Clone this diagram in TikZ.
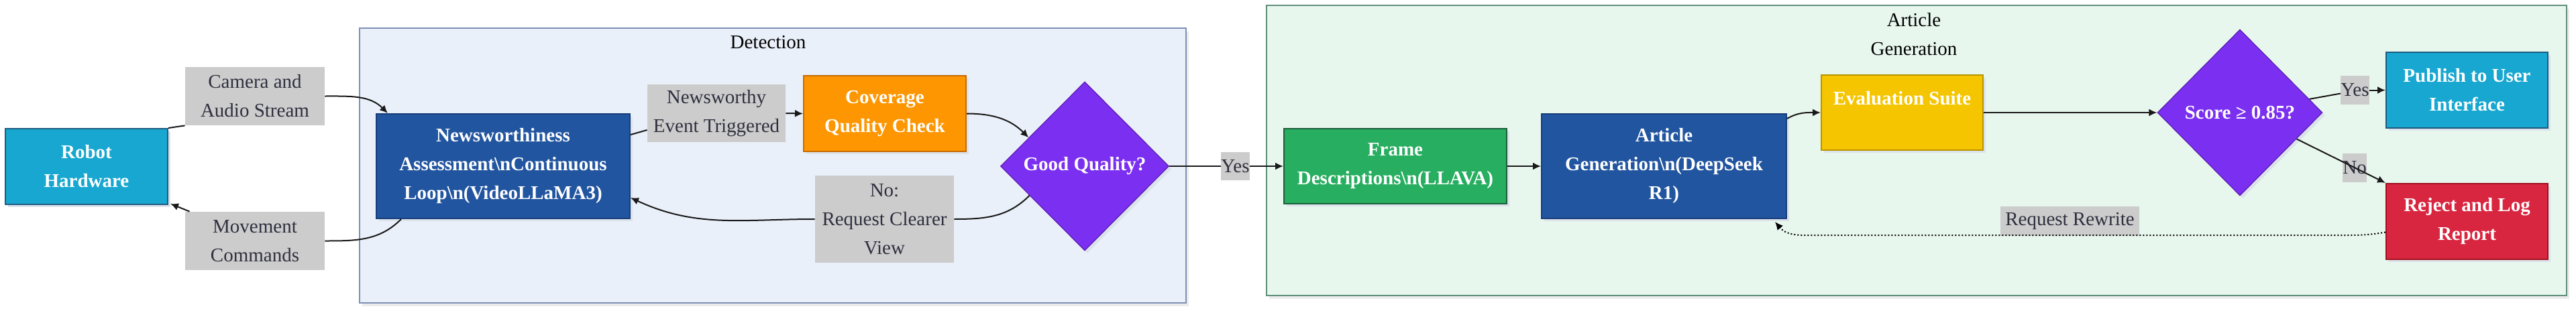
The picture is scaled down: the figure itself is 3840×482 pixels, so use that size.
\documentclass[tikz,border=0pt]{standalone}
\usepackage{fontspec}
\setmainfont{Liberation Serif}
\usetikzlibrary{shapes.geometric,shadows,calc,arrows.meta}
\definecolor{robotc}{HTML}{17A7D0}
\definecolor{robotb}{HTML}{1F5A80}
\definecolor{newsc}{HTML}{2255A0}
\definecolor{newsb}{HTML}{173E7A}
\definecolor{orangec}{HTML}{FD9600}
\definecolor{orangeb}{HTML}{C86A00}
\definecolor{purplec}{HTML}{7B2FF0}
\definecolor{purpleb}{HTML}{5A1FB0}
\definecolor{greenc}{HTML}{27AE60}
\definecolor{greenb}{HTML}{1B5E38}
\definecolor{yellowc}{HTML}{F5C500}
\definecolor{yellowb}{HTML}{B89400}
\definecolor{redc}{HTML}{D92640}
\definecolor{redb}{HTML}{A0101E}
\definecolor{lblc}{HTML}{CCCCCC}
\definecolor{lbltext}{HTML}{2F2F3F}
\definecolor{detfill}{HTML}{EAF0F9}
\definecolor{detdraw}{HTML}{7D8FB5}
\definecolor{artfill}{HTML}{E8F7EE}
\definecolor{artdraw}{HTML}{5E8F7A}
\definecolor{shadowc}{HTML}{DCE2EA}
\begin{document}
\begin{tikzpicture}[x=0.5pt,y=-0.5pt,
  txt/.style={font=\fontsize{14.5}{21.5}\selectfont, align=center},
  box/.style={rectangle, txt, line width=1pt, inner sep=0pt, text=white,
    font=\bfseries\fontsize{14.5}{21.5}\selectfont,
    drop shadow={fill=shadowc, opacity=1, shadow xshift=2pt, shadow yshift=-2pt}},
  dia/.style={diamond, txt, line width=0.6pt, inner sep=0pt, text=white,
    font=\bfseries\fontsize{14.5}{21.5}\selectfont,
    drop shadow={fill=shadowc, opacity=1, shadow xshift=2pt, shadow yshift=-2pt}},
  lbl/.style={rectangle, txt, fill=lblc, inner sep=0pt, text=lbltext},
  cluster/.style={rectangle, line width=0.8pt, inner sep=0pt,
    drop shadow={fill=black!8, opacity=1, shadow xshift=2pt, shadow yshift=-2.5pt}},
  edge/.style={line width=1pt, draw=black!90},
  arr/.style={edge, -{Latex[length=6pt,width=5.5pt]}}
]
\useasboundingbox (0,0) rectangle (3840,482);
% clusters
\node[cluster, fill=detfill, draw=detdraw, minimum width=616pt, minimum height=205pt] (detect) at (1152,247) {};
\node[txt, text=black] (detectlbl) at (1145,63) {Detection};
\node[cluster, fill=artfill, draw=artdraw, minimum width=969pt, minimum height=216.5pt] (artcl) at (2857,224.5) {};
\node[txt, text=black] (artcllbl) at (2853,51.5) {Article\\Generation};
% nodes
\node[box, fill=robotc, draw=robotb, minimum width=121pt, minimum height=56.5pt] (robot) at (129,248.5) {Robot\\Hardware};
\node[lbl, minimum width=104pt, minimum height=43.5pt] (camlbl) at (380,143.5) {Camera and\\Audio Stream};
\node[lbl, minimum width=104pt, minimum height=43.5pt] (movlbl) at (380,359.5) {Movement\\Commands};
\node[box, fill=newsc, draw=newsb, minimum width=189pt, minimum height=78pt] (news) at (750,248) {Newsworthiness\\Assessment\textbackslash nContinuous\\Loop\textbackslash n(VideoLLaMA3)};
\node[lbl, minimum width=103pt, minimum height=43pt] (evtlbl) at (1068,169) {Newsworthy\\Event Triggered};
\node[box, fill=orangec, draw=orangeb, minimum width=121pt, minimum height=56.5pt] (coverage) at (1319,169.5) {Coverage\\Quality Check};
\node[dia, fill=purplec, draw=purpleb, minimum width=125.5pt, minimum height=126pt] (goodq) at (1617,248) {Good Quality?};
\node[lbl, minimum width=103.5pt, minimum height=65pt] (nolbl) at (1318.5,327) {No:\\Request Clearer\\View};
\node[lbl, minimum width=20.5pt, minimum height=21pt] (yeslbl) at (1841.5,248) {Yes};
\node[box, fill=greenc, draw=greenb, minimum width=166pt, minimum height=56pt] (frame) at (2080,248) {Frame\\Descriptions\textbackslash n(LLAVA)};
\node[box, fill=newsc, draw=newsb, minimum width=182.5pt, minimum height=78pt] (artgen) at (2480.5,248) {Article\\Generation\textbackslash n(DeepSeek\\R1)};
\node[box, fill=yellowc, draw=yellowb, minimum width=120.5pt, minimum height=56pt] (eval) at (2835.5,168) {Evaluation Suite\\\mbox{}};
\node[dia, fill=purplec, draw=purpleb, minimum width=123pt, minimum height=124pt] (score) at (3339,168) {Score ≥ 0.85?};
\node[lbl, minimum width=20.5pt, minimum height=21.5pt] (yes2) at (3510.5,134.5) {Yes};
\node[box, fill=robotc, draw=robotb, minimum width=120.5pt, minimum height=56.5pt] (publish) at (3677.5,134.5) {Publish to User\\Interface};
\node[lbl, minimum width=17pt, minimum height=21.5pt] (no2) at (3510,250.5) {No};
\node[box, fill=redc, draw=redb, minimum width=120.5pt, minimum height=56.5pt] (reject) at (3677.5,330.5) {Reject and Log\\Report};
\node[lbl, minimum width=103.5pt, minimum height=22pt] (rewrite) at (3085.5,330) {Request Rewrite};
% edges
\draw[edge] (robot.north east) -- (camlbl.south west);
\draw[arr] (camlbl.east) to[out=0,in=135] ($(news.north west)+(18,0)$);
\draw[edge] ($(news.south west)+(38,0)$) to[out=225,in=0] (movlbl.east);
\draw[arr] ($(movlbl.north west)+(7,0)$) -- ($(robot.south east)+(3,-2)$);
\draw[edge] ($(news.north east)+(0,32)$) -- ($(evtlbl.west)+(0,25)$);
\draw[arr] (evtlbl.east) -- (coverage.west);
\draw[arr] (coverage.east) to[out=0,in=135] (goodq.153);
\draw[edge] (goodq.208) to[out=225,in=0] (nolbl.east);
\draw[arr] (nolbl.west) to[out=180,in=-25] ($(news.east)+(0,47)$);
\draw[edge] (goodq.east) -- (yeslbl.west);
\draw[arr] (yeslbl.east) -- (frame.west);
\draw[arr] (frame.east) -- (artgen.west);
\draw[arr] ($(artgen.north east)+(0,8)$) to[out=30,in=180] (eval.west);
\draw[arr] (eval.east) -- (score.west);
\draw[edge] (score.11) -- ($(yes2.west)+(0,5)$);
\draw[arr] (yes2.east) -- (publish.west);
\draw[arr] (score.-25) -- (reject.north west);
\coordinate (rw1) at (3480,351);
\coordinate (rw2) at (2720,351);
\draw[arr, draw=black, dash pattern=on 1pt off 1.5pt] ($(reject.west)+(0,16)$) to[out=190,in=0] (rw1) -- (rw2) to[out=180,in=-50] ($(artgen.south east)+(-18,4)$);
\end{tikzpicture}
\end{document}
